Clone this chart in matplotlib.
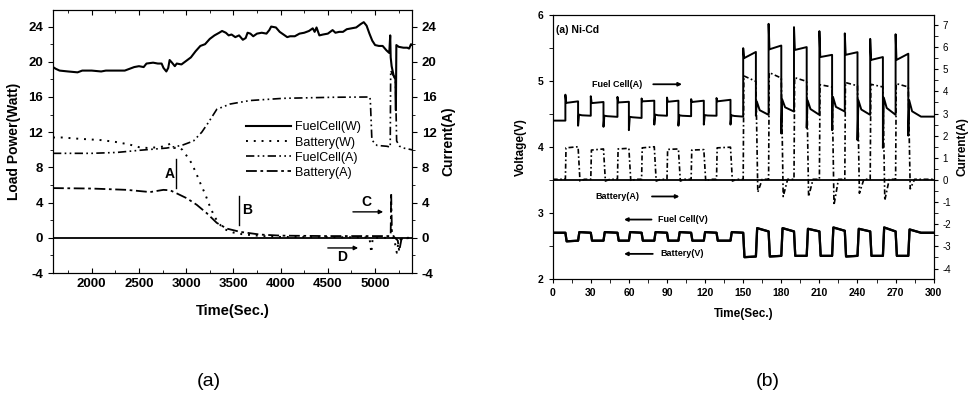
import numpy as np
import matplotlib
matplotlib.use('Agg')
from matplotlib import pyplot as plt
from matplotlib.ticker import MultipleLocator

plt.rcParams['font.family'] = ['Liberation Sans', 'DejaVu Sans']
plt.rcParams['axes.unicode_minus'] = False

# ---------------- (a) long run, power and current ----------------
fcw_t = [1590, 1620, 1660, 1750, 1850, 1900, 2000, 2100, 2150, 2250, 2350, 2400, 2450, 2500,
         2550, 2580, 2650, 2700, 2740, 2760, 2790, 2810, 2825, 2850, 2880, 2900, 2950, 3000,
         3050, 3100, 3150, 3200, 3250, 3300, 3350, 3380, 3420, 3450, 3480, 3520, 3560, 3600,
         3630, 3650, 3680, 3710, 3750, 3800, 3850, 3880, 3900, 3950, 3990, 4030, 4070, 4100,
         4150, 4200, 4250, 4300, 4340, 4360, 4380, 4410, 4450, 4500, 4550, 4580, 4620, 4660,
         4700, 4750, 4800, 4850, 4880, 4910, 4940, 4970, 5000, 5040, 5080, 5120, 5140, 5150,
         5160, 5165, 5175, 5195, 5215, 5220, 5225, 5250, 5300, 5340, 5360, 5380, 5392]
fcw_p = [19.4, 19.2, 19.0, 18.9, 18.8, 19.0, 19.0, 18.9, 19.0, 19.0, 19.0, 19.2, 19.4, 19.5,
         19.4, 19.8, 19.9, 19.8, 19.8, 19.3, 18.9, 19.3, 20.2, 19.9, 19.5, 19.8, 19.7, 20.1,
         20.5, 21.2, 21.8, 22.0, 22.6, 23.0, 23.3, 23.5, 23.3, 23.0, 23.1, 22.8, 23.0, 22.5,
         22.7, 23.3, 23.2, 22.9, 23.2, 23.3, 23.2, 23.6, 24.0, 23.9, 23.4, 23.1, 22.8, 22.9,
         22.9, 23.2, 23.3, 23.5, 23.8, 23.4, 23.9, 23.0, 23.1, 23.2, 23.6, 23.3, 23.4, 23.4,
         23.7, 23.8, 23.9, 24.3, 24.5, 24.1, 23.2, 22.4, 21.9, 21.8, 21.8, 21.3, 21.1, 21.0,
         23.0, 20.5, 19.5, 18.5, 18.0, 14.5, 21.9, 21.7, 21.6, 21.6, 21.5, 22.0, 21.9]

batw_t = [1590, 1700, 1800, 1950, 2100, 2250, 2400, 2500, 2600, 2700, 2780, 2830, 2870, 2920,
          2960, 3000, 3050, 3100, 3150, 3200, 3250, 3300, 3350, 3400, 3500, 3600, 3800, 4000,
          4940, 4960, 4975, 5200, 5230, 5250, 5300, 5392]
batw_p = [11.4, 11.4, 11.3, 11.2, 11.1, 10.9, 10.6, 10.3, 10.2, 10.3, 10.4, 10.7, 10.2, 10.3,
          10.0, 9.4, 8.6, 7.5, 6.2, 5.0, 3.6, 2.4, 1.6, 1.0, 0.6, 0.4, 0.2, 0.1,
          0.05, -1.7, 0.0, 0.0, -1.7, -0.3, 0.0, 0.0]

fca_t = [1590, 2000, 2265, 2512, 2794, 2953, 3077, 3165, 3235, 3324, 3465, 3677, 4030, 4560,
         4945, 4950, 4966, 5020, 5126, 5160, 5165, 5215, 5228, 5260, 5300, 5392]
fca_i = [9.6, 9.6, 9.7, 9.95, 10.2, 10.5, 11.0, 12.0, 13.1, 14.6, 15.2, 15.6, 15.85, 15.97,
         16.0, 15.5, 11.1, 10.5, 10.4, 10.3, 19.0, 18.0, 11.0, 10.4, 10.2, 10.0]

bata_t = [1590, 2000, 2371, 2618, 2759, 2830, 2900, 3006, 3112, 3218, 3324, 3430, 3571, 3783,
          4000, 4500, 5150, 5165, 5170, 5178, 5200, 5240, 5255, 5280, 5392]
bata_i = [5.65, 5.6, 5.45, 5.2, 5.45, 5.4, 5.05, 4.5, 3.75, 2.8, 1.7, 1.05, 0.68, 0.37,
          0.25, 0.2, 0.2, 0.3, 5.1, 0.6, 0.1, -0.3, -1.5, -0.1, 0.0]

# ---------------- (b) Ni-Cd pulse test ----------------
rise = [10, 30, 51, 70, 90, 109, 129, 150, 170, 190, 210, 230, 250, 270]
fall = [20, 40, 60, 80, 99, 119, 140, 160, 180, 200, 220, 240, 260, 280]
next_edge = [30, 51, 70, 90, 109, 129, 150, 170, 190, 210, 230, 250, 270, 290]

fc_i_start = 2.68
fc_i_spike = [3.85, 3.78, 3.75, 3.68, 3.72, 3.65, 3.70, 5.95, 7.05, 6.90, 6.72, 6.62, 6.37, 6.58]
fc_i_on0 = [3.48, 3.47, 3.50, 3.55, 3.53, 3.52, 3.55, 5.50, 5.90, 5.87, 5.55, 5.65, 5.42, 5.42]
fc_i_on1 = [3.55, 3.52, 3.53, 3.58, 3.58, 3.58, 3.62, 5.78, 6.07, 6.00, 5.65, 5.77, 5.55, 5.70]
fc_i_dip = [2.45, 2.40, 2.25, 2.50, 2.45, 2.50, 2.50, 2.90, 2.10, 2.35, 2.25, 1.80, 1.45, 2.00]
fc_i_off0 = [2.95, 2.90, 2.85, 2.95, 2.92, 2.93, 2.92, 3.55, 3.64, 3.60, 3.75, 3.60, 3.72, 3.60]
fc_i_offm = [2.92, 2.88, 2.83, 2.92, 2.90, 2.91, 2.89, 3.15, 3.28, 3.20, 3.30, 3.18, 3.25, 3.10]
fc_i_off1 = [2.90, 2.85, 2.80, 2.90, 2.88, 2.90, 2.86, 2.94, 3.09, 2.94, 3.09, 2.94, 2.94, 2.86]

bat_i_base = 0.03
bat_i_on0 = [1.45, 1.35, 1.40, 1.45, 1.38, 1.35, 1.45, 4.70, 4.85, 4.62, 4.30, 4.40, 4.32, 4.35]
bat_i_on1 = [1.50, 1.40, 1.43, 1.50, 1.40, 1.37, 1.48, 4.45, 4.60, 4.45, 4.20, 4.25, 4.20, 4.20]
bat_i_dip = [-0.05, -0.05, -0.05, -0.05, -0.05, -0.05, -0.05,
             -0.55, -0.75, -0.75, -1.13, -0.60, -0.92, -0.40]

v_start = 2.70
v_on0 = [2.57, 2.58, 2.58, 2.58, 2.58, 2.58, 2.58, 2.33, 2.34, 2.35, 2.35, 2.34, 2.35, 2.35]
v_on1 = [2.58, 2.58, 2.58, 2.58, 2.58, 2.58, 2.58, 2.34, 2.35, 2.35, 2.35, 2.35, 2.35, 2.35]
v_off0 = [2.71, 2.71, 2.71, 2.71, 2.71, 2.71, 2.71, 2.77, 2.77, 2.76, 2.78, 2.76, 2.78, 2.75]
v_off1 = [2.70, 2.70, 2.70, 2.70, 2.70, 2.70, 2.70, 2.72, 2.72, 2.72, 2.73, 2.72, 2.72, 2.70]


def fc_current_trace():
    t, y = [0], [fc_i_start]
    for i in range(len(rise)):
        t += [rise[i], rise[i], rise[i] + 0.7, fall[i], fall[i], fall[i] + 0.7, fall[i] + 3, next_edge[i]]
        y += [y[-1], fc_i_spike[i], fc_i_on0[i], fc_i_on1[i], fc_i_dip[i], fc_i_off0[i], fc_i_offm[i], fc_i_off1[i]]
    t.append(300)
    y.append(y[-1])
    return t, y


def bat_current_trace():
    t, y = [0], [bat_i_base]
    for i in range(len(rise)):
        t += [rise[i], rise[i] + 0.5, fall[i], fall[i] + 1.5, fall[i] + 5]
        y += [y[-1], bat_i_on0[i], bat_i_on1[i], bat_i_dip[i], bat_i_base]
    t.append(300)
    y.append(bat_i_base)
    return t, y


def voltage_trace():
    t, y = [0], [v_start]
    for i in range(len(rise)):
        t += [rise[i], rise[i] + 1, fall[i], fall[i] + 1, next_edge[i]]
        y += [y[-1], v_on0[i], v_on1[i], v_off0[i], v_off1[i]]
    t.append(300)
    y.append(y[-1])
    return t, y


fig = plt.figure(figsize=(9.72, 3.94), dpi=100)

# ======== panel (a) ========
ax1 = fig.add_axes([0.0545, 0.307, 0.3695, 0.668])
ax1r = ax1.twinx()
ylo, yhi = -4, 25.9
for a in (ax1, ax1r):
    a.set_xlim(1590, 5392)
    a.set_ylim(ylo, yhi)
    a.yaxis.set_major_locator(MultipleLocator(4))
    a.yaxis.set_minor_locator(MultipleLocator(2))

l1, = ax1.plot(fcw_t, fcw_p, color='black', lw=1.5, label='FuelCell(W)')
l2, = ax1.plot(batw_t, batw_p, color='black', lw=1.4, ls=(0, (1, 3)), label='Battery(W)')
l3, = ax1r.plot(fca_t, fca_i, color='black', lw=1.2, ls=(0, (5, 2, 1, 2, 1, 2)), label='FuelCell(A)')
l4, = ax1r.plot(bata_t, bata_i, color='black', lw=1.3, ls=(0, (6, 2, 1.5, 2)), label='Battery(A)')
ax1.axhline(0, color='black', lw=1.3)

ax1.xaxis.set_major_locator(MultipleLocator(500))
ax1.xaxis.set_minor_locator(MultipleLocator(250))
ax1.tick_params(axis='x', which='both', direction='in', top=True, labelsize=9.5)
ax1.tick_params(axis='y', which='both', direction='out', labelsize=9.5)
ax1r.tick_params(axis='y', which='both', direction='out', labelsize=9.5)
for lab in ax1.get_xticklabels() + ax1.get_yticklabels() + ax1r.get_yticklabels():
    lab.set_fontweight('bold')
ax1.set_xlabel('Time(Sec.)', fontsize=10.5, fontweight='bold', labelpad=10)
ax1.set_ylabel('Load Power(Watt)', fontsize=10, fontweight='bold', labelpad=5)
ax1r.set_ylabel('Current(A)', fontsize=10, fontweight='bold', labelpad=3)

ax1.legend(handles=[l1, l2, l3, l4], loc='upper left', bbox_to_anchor=(0.52, 0.6),
           frameon=False, fontsize=9, handlelength=3.6, handletextpad=0.3,
           labelspacing=0.25, borderpad=0)

ax1.plot([2893, 2893], [5.7, 9.0], color='black', lw=1.0)
ax1.text(2829, 7.3, 'A', fontsize=10, fontweight='bold', ha='center', va='center')
ax1.plot([3560, 3560], [1.5, 4.8], color='black', lw=1.0)
ax1.text(3650, 3.2, 'B', fontsize=10, fontweight='bold', ha='center', va='center')
ax1.text(4911, 4.1, 'C', fontsize=10, fontweight='bold', ha='center', va='center')
ax1.annotate('', xy=(5115, 2.95), xytext=(4736, 2.95),
             arrowprops=dict(arrowstyle='-|>', color='black', lw=1.0, mutation_scale=6))
ax1.text(4650, -2.2, 'D', fontsize=10, fontweight='bold', ha='center', va='center')
ax1.annotate('', xy=(4850, -1.15), xytext=(4470, -1.15),
             arrowprops=dict(arrowstyle='-|>', color='black', lw=1.0, mutation_scale=6))

# ======== panel (b) ========
ax2 = fig.add_axes([0.5686, 0.292, 0.392, 0.670])
ax2r = ax2.twinx()
ax2.set_xlim(0, 300)
ax2.set_ylim(2, 6)
ax2r.set_ylim(-4.47, 7.45)

vt, vv = voltage_trace()
ax2.plot(vt, vv, color='black', lw=1.6, label='Fuel Cell(V)')
ax2.plot(vt, vv, color='black', lw=1.6, label='Battery(V)')
ft, fi = fc_current_trace()
ax2r.plot(ft, fi, color='black', lw=1.4, label='Fuel Cell(A)')
bt, bi = bat_current_trace()
ax2r.plot(bt, bi, color='black', lw=1.2, ls=(0, (3, 1.5, 1, 1.5)), label='Battery(A)')
ax2r.axhline(0, color='black', lw=1.3)

ax2.xaxis.set_major_locator(MultipleLocator(30))
ax2.xaxis.set_minor_locator(MultipleLocator(15))
ax2.yaxis.set_major_locator(MultipleLocator(1))
ax2.yaxis.set_minor_locator(MultipleLocator(0.5))
ax2r.yaxis.set_major_locator(MultipleLocator(1))
ax2r.yaxis.set_minor_locator(MultipleLocator(0.5))
ax2.tick_params(axis='x', which='both', direction='out', labelsize=7.5, length=3)
ax2.tick_params(axis='y', which='both', direction='out', labelsize=7.5, length=3)
ax2r.tick_params(axis='y', which='both', direction='out', labelsize=7, length=3)
for lab in ax2.get_xticklabels() + ax2.get_yticklabels():
    lab.set_fontweight('bold')
ax2.set_xlabel('Time(Sec.)', fontsize=8.5, fontweight='bold', labelpad=7)
ax2.set_ylabel('Voltage(V)', fontsize=8.5, fontweight='bold', labelpad=8)
ax2r.set_ylabel('Current(A)', fontsize=8.5, fontweight='bold', labelpad=4)

arr = dict(arrowstyle='-|>', color='black', lw=1.3, mutation_scale=5)
ax2.text(2.5, 5.77, '(a) Ni-Cd', fontsize=7.5, fontweight='bold', ha='left', va='center')
ax2.text(31, 4.95, 'Fuel Cell(A)', fontsize=6.5, fontweight='bold', ha='left', va='center')
ax2.annotate('', xy=(104, 4.95), xytext=(77, 4.95), arrowprops=arr)
ax2.text(34, 3.25, 'Battery(A)', fontsize=6.5, fontweight='bold', ha='left', va='center')
ax2.annotate('', xy=(102, 3.25), xytext=(76, 3.25), arrowprops=arr)
ax2.text(83, 2.9, 'Fuel Cell(V)', fontsize=6.5, fontweight='bold', ha='left', va='center')
ax2.annotate('', xy=(54, 2.9), xytext=(80, 2.9), arrowprops=arr)
ax2.text(85, 2.38, 'Battery(V)', fontsize=6.5, fontweight='bold', ha='left', va='center')
ax2.annotate('', xy=(54, 2.38), xytext=(81, 2.38), arrowprops=arr)

fig.text(209 / 972, 1 - 381 / 394, '(a)', fontsize=14, ha='center', va='center')
fig.text(768 / 972, 1 - 381 / 394, '(b)', fontsize=14, ha='center', va='center')

fig.savefig('out.png', dpi=100)
